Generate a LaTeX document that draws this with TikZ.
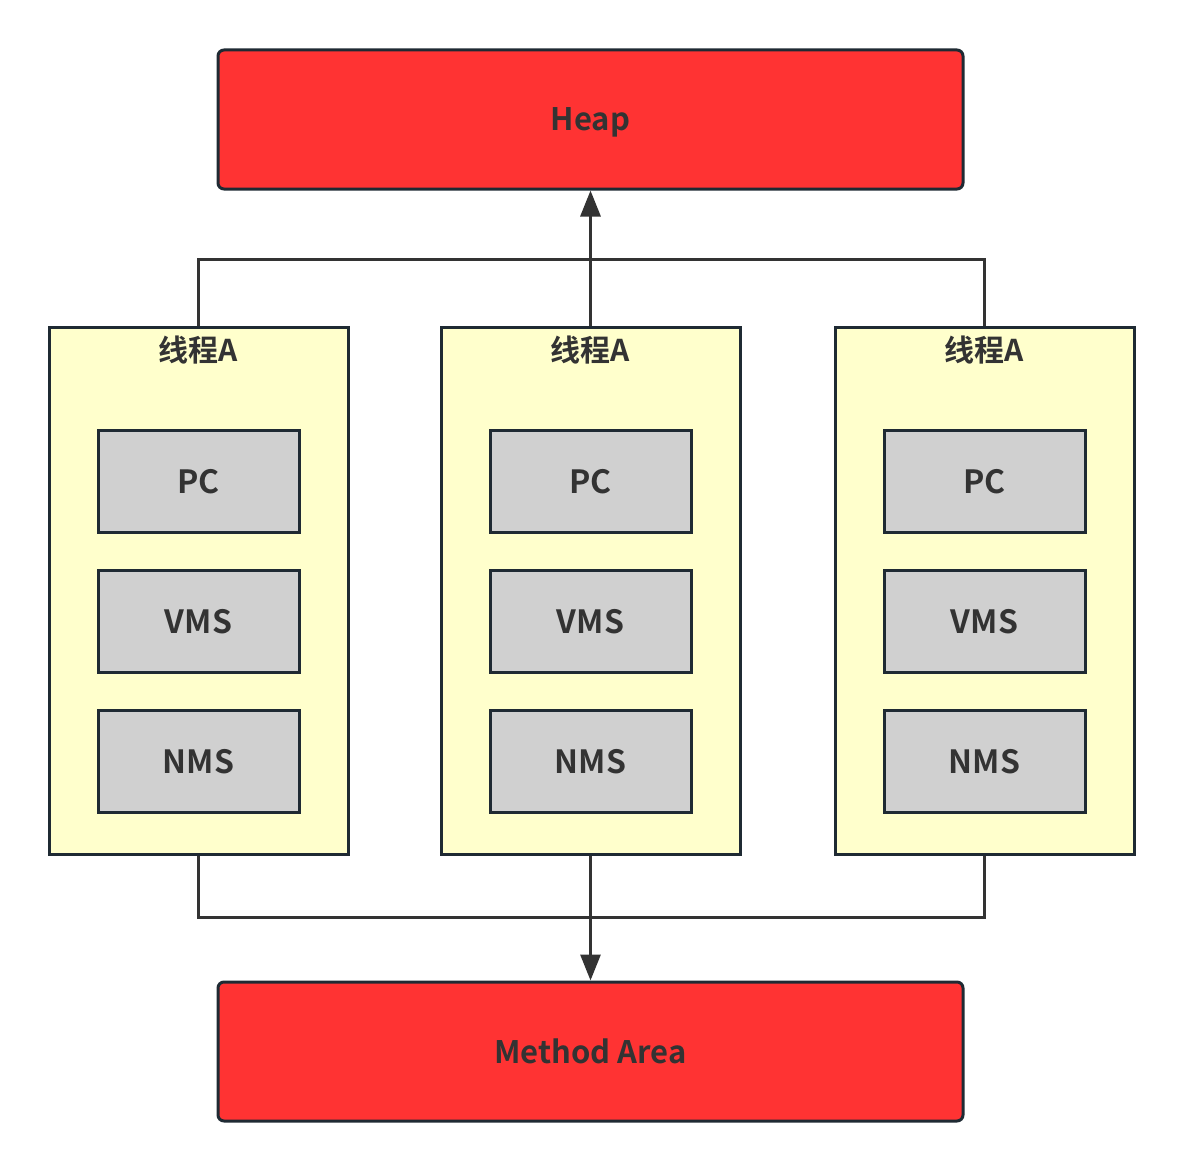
\documentclass[tikz,border=0pt]{standalone}
\usepackage{fontspec}
\setmainfont{Noto Sans CJK SC}[BoldFont={* Bold}]
\usetikzlibrary{arrows.meta}
\definecolor{heapred}{HTML}{FF3333}
\definecolor{bord}{HTML}{1F2A33}
\definecolor{lin}{HTML}{333333}
\definecolor{thr}{HTML}{FFFFCC}
\definecolor{cell}{HTML}{D0D0D0}
\tikzset{
  area/.style={draw=bord, fill=heapred, line width=3pt, rounded corners=6pt, minimum width=745pt, minimum height=139pt, inner sep=0pt, text depth=0pt, font=\fontsize{31}{34}\selectfont\bfseries, text=lin},
  thread/.style={draw=bord, fill=thr, line width=3pt, minimum width=299pt, minimum height=527pt, inner sep=0pt},
  cellbox/.style={draw=bord, fill=cell, line width=3pt, minimum width=201pt, minimum height=102pt, inner sep=0pt, text depth=0pt, font=\fontsize{32}{34}\selectfont\bfseries, text=lin},
  ttl/.style={font=\fontsize{30}{32}\selectfont\bfseries, text=lin, inner sep=0pt},
  conn/.style={draw=lin, line width=3pt},
  arr/.style={conn, -{Triangle[width=20pt,length=26pt]}},
}
\begin{document}
\begin{tikzpicture}[x=1pt,y=-1pt]
\useasboundingbox (0,0) rectangle (1184,1172);
\node[area] (heap) at (590.5,119.5) {Heap};
\node[area] (ma) at (590.5,1051.5) {Method Area};
\foreach \n/\x in {L/198.5,M/590.5,R/984.5}{
  \node[thread] (t\n) at (\x,590.5) {};
  \node[ttl] (h\n) at (\x,350) {线程A};
  \node[cellbox] (pc\n) at (\x,481) {PC};
  \node[cellbox] (vms\n) at (\x,621) {VMS};
  \node[cellbox] (nms\n) at (\x,761) {NMS};
}
\coordinate (topbus) at (0,259);
\coordinate (botbus) at (0,917);
\draw[conn] (tL.north) |- (topbus -| tM.north) -| (tR.north);
\draw[arr] (tM.north) -- (heap.south);
\draw[conn] (tL.south) |- (botbus -| tM.south) -| (tR.south);
\draw[arr] (tM.south) -- (ma.north);
\end{tikzpicture}
\end{document}
